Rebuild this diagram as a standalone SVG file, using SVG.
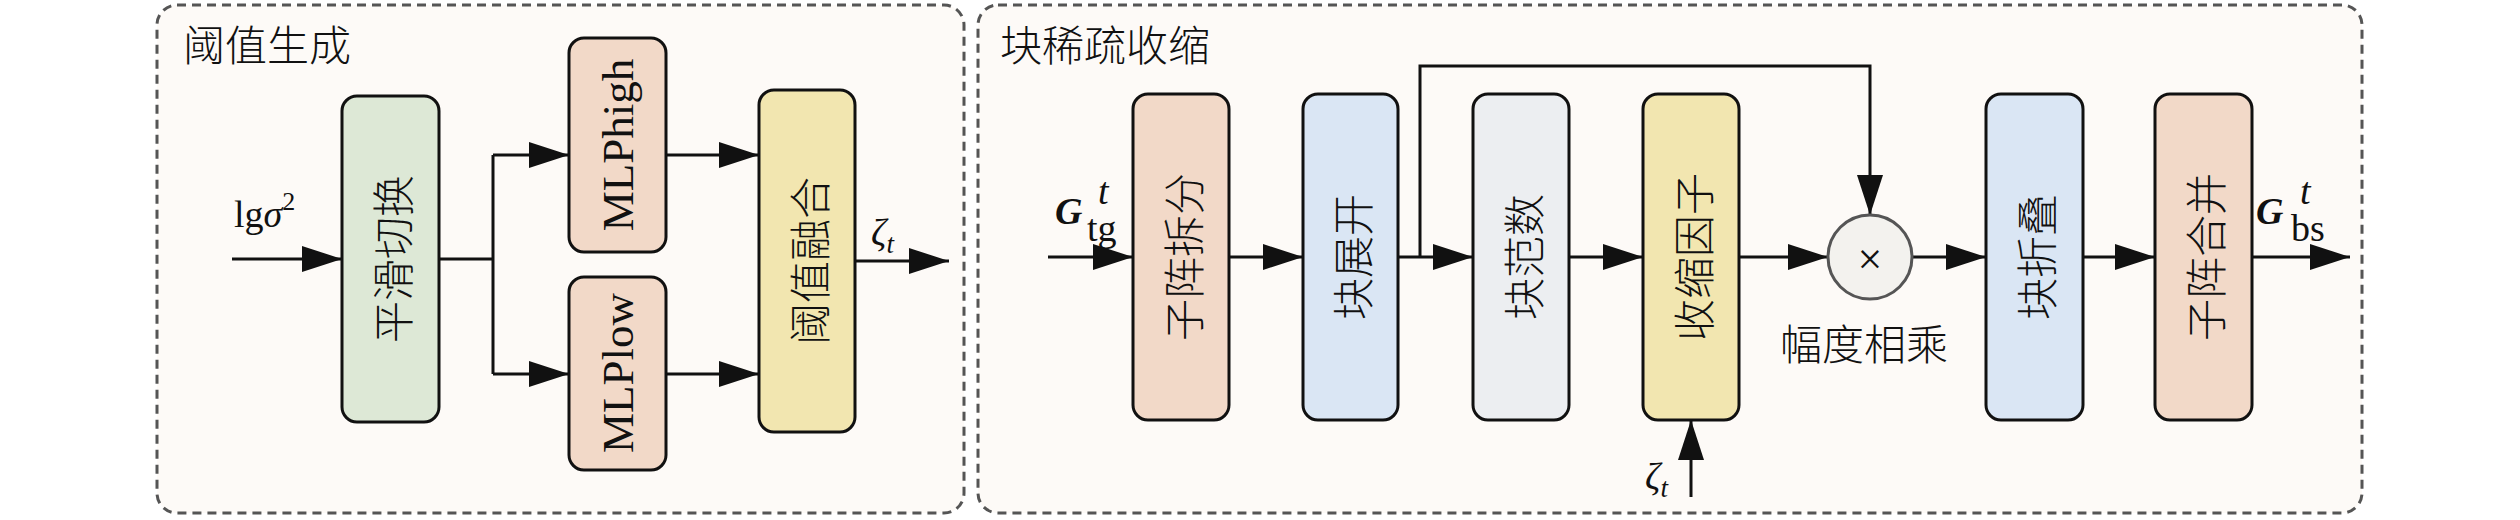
<svg xmlns="http://www.w3.org/2000/svg" width="2520" height="520" viewBox="0 0 2520 520">
<style>
.panel{fill:#fdfaf7;stroke:#555;stroke-width:3;stroke-dasharray:9 6}
.box{stroke:#111;stroke-width:3}
.green{fill:#dde8d6}
.peach{fill:#f2d9c8}
.yellow{fill:#f2e6b0}
.blue{fill:#dae6f4}
.gray{fill:#eceef1}
.cjk{font-family:"Noto Sans CJK SC",sans-serif;font-weight:300;font-size:42px;fill:#111}
.lat{font-family:"Liberation Serif",serif;font-size:45px;fill:#111}
.math{font-family:"Liberation Serif",serif;font-size:38px;fill:#111}
.conn{stroke:#111;stroke-width:3;fill:none}
</style>
<defs>
<marker id="ah" viewBox="0 0 40 26" refX="40" refY="13" markerWidth="40" markerHeight="26" markerUnits="userSpaceOnUse" orient="auto">
<path d="M0,0 L40,13 L0,26 Z" fill="#111"/>
</marker>
</defs>
<rect width="2520" height="520" fill="#fff"/>
<g id="panel-threshold">
<rect class="panel" x="157" y="5" width="807" height="508" rx="20"/>
<text class="cjk" x="183" y="61">阈值生成</text>
</g>
<g id="panel-shrink">
<rect class="panel" x="978" y="5" width="1384" height="508" rx="20"/>
<text class="cjk" x="1000" y="61">块稀疏收缩</text>
</g>
<g id="connectors">
<line class="conn" x1="232" y1="259" x2="342" y2="259" marker-end="url(#ah)"/>
<polyline class="conn" points="439,259 493,259"/>
<polyline class="conn" points="493,155 493,374"/>
<line class="conn" x1="493" y1="155" x2="569" y2="155" marker-end="url(#ah)"/>
<line class="conn" x1="493" y1="374" x2="569" y2="374" marker-end="url(#ah)"/>
<line class="conn" x1="666" y1="155" x2="759" y2="155" marker-end="url(#ah)"/>
<line class="conn" x1="666" y1="374" x2="759" y2="374" marker-end="url(#ah)"/>
<line class="conn" x1="855" y1="261" x2="949" y2="261" marker-end="url(#ah)"/>
<line class="conn" x1="1048" y1="257" x2="1133" y2="257" marker-end="url(#ah)"/>
<line class="conn" x1="1229" y1="257" x2="1303" y2="257" marker-end="url(#ah)"/>
<line class="conn" x1="1398" y1="257" x2="1473" y2="257" marker-end="url(#ah)"/>
<line class="conn" x1="1569" y1="257" x2="1643" y2="257" marker-end="url(#ah)"/>
<line class="conn" x1="1739" y1="257" x2="1828" y2="257" marker-end="url(#ah)"/>
<polyline class="conn" points="1420,257 1420,66 1870,66 1870,215" marker-end="url(#ah)"/>
<line class="conn" x1="1912" y1="257" x2="1986" y2="257" marker-end="url(#ah)"/>
<line class="conn" x1="2083" y1="257" x2="2155" y2="257" marker-end="url(#ah)"/>
<line class="conn" x1="2252" y1="257" x2="2350" y2="257" marker-end="url(#ah)"/>
<line class="conn" x1="1691" y1="497" x2="1691" y2="420" marker-end="url(#ah)"/>
</g>
<g id="labels">
<text class="math" x="234" y="227">lg<tspan font-style="italic">σ</tspan><tspan font-size="26" dy="-17">2</tspan></text>
<text class="math" x="871" y="245" font-size="40" font-style="italic">ζ<tspan font-size="27" dy="8">t</tspan></text>
<text class="math" x="1645" y="489" font-size="40" font-style="italic">ζ<tspan font-size="27" dy="8">t</tspan></text>
<text class="math" x="1055" y="224" font-size="40" font-weight="bold" font-style="italic">G</text>
<text class="math" x="1098" y="204" font-size="26" font-style="italic">t</text>
<text class="math" x="1087" y="241" font-size="26">tg</text>
<text class="math" x="2256" y="224" font-size="40" font-weight="bold" font-style="italic">G</text>
<text class="math" x="2300" y="204" font-size="26" font-style="italic">t</text>
<text class="math" x="2291" y="241" font-size="26">bs</text>
<text class="cjk" x="1864" y="360" text-anchor="middle">幅度相乘</text>
</g>
<g id="node-smooth">
<rect class="box green" x="342" y="96" width="97" height="326" rx="15"/>
<text class="cjk" transform="translate(390.5,259) rotate(-90)" text-anchor="middle" dominant-baseline="central">平滑切换</text>
</g>
<g id="node-mlphigh">
<rect class="box peach" x="569" y="38" width="97" height="214" rx="15"/>
<text class="lat" transform="translate(617.5,145) rotate(-90)" text-anchor="middle" dominant-baseline="central">MLPhigh</text>
</g>
<g id="node-mlplow">
<rect class="box peach" x="569" y="277" width="97" height="193" rx="15"/>
<text class="lat" transform="translate(617.5,373) rotate(-90)" text-anchor="middle" dominant-baseline="central">MLPlow</text>
</g>
<g id="node-fusion">
<rect class="box yellow" x="759" y="90" width="96" height="342" rx="15"/>
<text class="cjk" transform="translate(807,261) rotate(-90)" text-anchor="middle" dominant-baseline="central">阈值融合</text>
</g>
<g id="node-split">
<rect class="box peach" x="1133" y="94" width="96" height="326" rx="15"/>
<text class="cjk" transform="translate(1181,257) rotate(-90)" text-anchor="middle" dominant-baseline="central">子阵拆分</text>
</g>
<g id="node-unfold">
<rect class="box blue" x="1303" y="94" width="95" height="326" rx="15"/>
<text class="cjk" transform="translate(1350.5,257) rotate(-90)" text-anchor="middle" dominant-baseline="central">块展开</text>
</g>
<g id="node-norm">
<rect class="box gray" x="1473" y="94" width="96" height="326" rx="15"/>
<text class="cjk" transform="translate(1521,257) rotate(-90)" text-anchor="middle" dominant-baseline="central">块范数</text>
</g>
<g id="node-factor">
<rect class="box yellow" x="1643" y="94" width="96" height="326" rx="15"/>
<text class="cjk" transform="translate(1691,257) rotate(-90)" text-anchor="middle" dominant-baseline="central">收缩因子</text>
</g>
<g id="node-mult">
<circle cx="1870" cy="257" r="42" fill="#f3f2ee" stroke="#555" stroke-width="3"/>
<text x="1870" y="259" font-family="Liberation Serif, serif" font-size="44" text-anchor="middle" dominant-baseline="central" fill="#111">×</text>
</g>
<g id="node-fold">
<rect class="box blue" x="1986" y="94" width="97" height="326" rx="15"/>
<text class="cjk" transform="translate(2034.5,257) rotate(-90)" text-anchor="middle" dominant-baseline="central">块折叠</text>
</g>
<g id="node-merge">
<rect class="box peach" x="2155" y="94" width="97" height="326" rx="15"/>
<text class="cjk" transform="translate(2203.5,257) rotate(-90)" text-anchor="middle" dominant-baseline="central">子阵合并</text>
</g>
</svg>
